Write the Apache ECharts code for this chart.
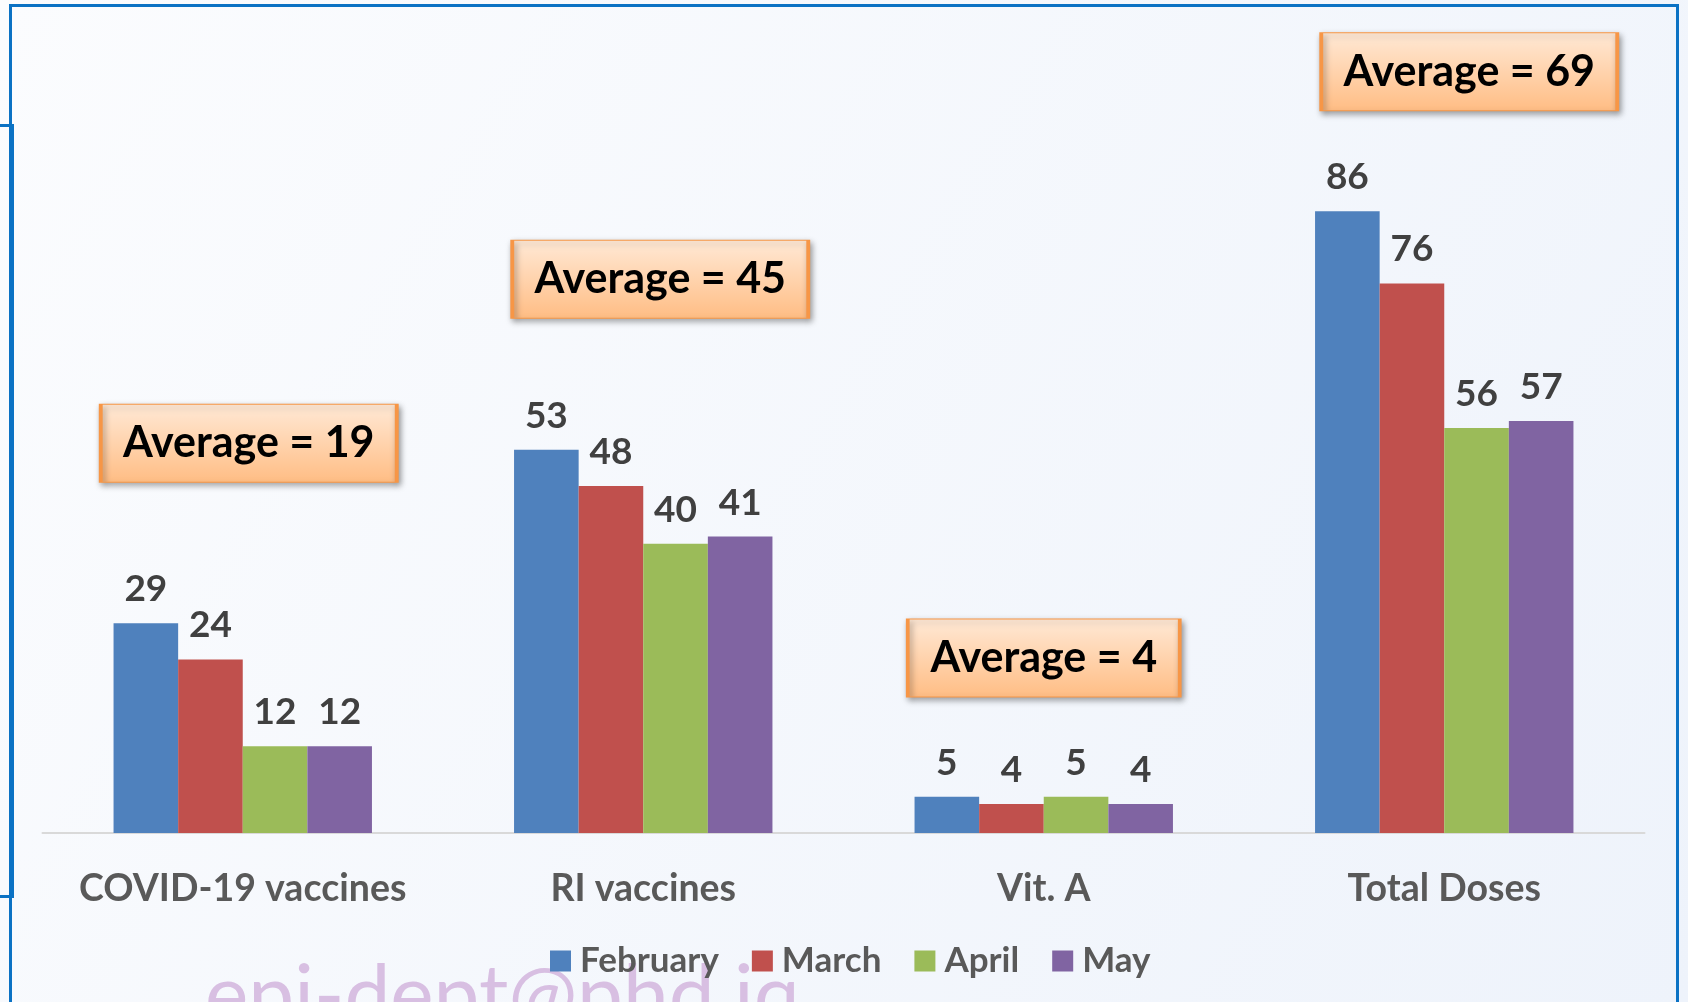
<!DOCTYPE html>
<html>
<head>
<meta charset="utf-8">
<script src="https://cdn.jsdelivr.net/npm/echarts@6/dist/echarts.min.js"></script>
<style>
  html, body { margin: 0; padding: 0; }
  #chart { width: 1688px; height: 1002px; }
</style>
</head>
<body>
<div id="chart"></div>
<script>
const categories = ["COVID-19 vaccines", "RI vaccines", "Vit. A", "Total Doses"];
const monthNames = ["February", "March", "April", "May"];
const february = [29, 53, 5, 86];
const march = [24, 48, 4, 76];
const april = [12, 40, 5, 56];
const may = [12, 41, 4, 57];
const averages = [19, 45, 4, 69];

// where the "Average" boxes sit (value-axis height, pixel nudge, box width)
const avgBoxLevel = [53.9, 76.6, 24.2, 105.3];
const avgBoxShift = [6, 17, 0, 25];
const avgBoxWidth = [296, 296, 272, 296];

const colors = ["#4f81bd", "#c0504d", "#9bbb59", "#8064a2"];
const font = "Lato";
const barW = 64.6;

const chart = echarts.init(document.getElementById("chart"));

const barLabel = {
  show: true,
  position: "top",
  distance: 14,
  fontFamily: font,
  fontWeight: "bold",
  fontSize: 37,
  lineHeight: 40,
  color: "#404040"
};

// markPoint hangs off the first bar, so move it back to the group centre
const avgPoints = averages.map((v, i) => ({
  coord: [categories[i], avgBoxLevel[i]],
  value: v,
  symbol: "rect",
  symbolSize: [avgBoxWidth[i], 78],
  symbolOffset: [avgBoxShift[i] + 1.5 * barW, 0]
}));

const seriesData = [february, march, april, may];

chart.setOption({
  animation: false,
  backgroundColor: new echarts.graphic.LinearGradient(0, 0, 1, 1, [
    { offset: 0, color: "#fbfcfe" },
    { offset: 1, color: "#eef3fb" }
  ]),
  color: colors,
  grid: {
    left: 42.5,
    right: 43.5,
    top: 37.7,
    bottom: 169
  },
  legend: {
    data: monthNames,
    left: 545,
    top: 936,
    icon: "rect",
    itemWidth: 21,
    itemHeight: 21,
    itemGap: 33,
    textStyle: {
      fontFamily: font,
      fontWeight: "bold",
      fontSize: 35,
      lineHeight: 40,
      color: "#595959",
      padding: [0, 0, 0, 4]
    }
  },
  xAxis: {
    type: "category",
    data: categories,
    axisLine: { lineStyle: { color: "#d9d9d9", width: 2 } },
    axisTick: { show: false },
    axisLabel: {
      interval: 0,
      margin: 36,
      fontFamily: font,
      fontWeight: "bold",
      fontSize: 37.5,
      lineHeight: 40,
      color: "#595959"
    }
  },
  yAxis: {
    type: "value",
    min: 0,
    max: 110,
    show: false
  },
  series: seriesData.map((d, i) => {
    const s = {
      name: monthNames[i],
      type: "bar",
      data: d,
      barWidth: barW,
      barGap: "0%",
      label: barLabel
    };
    if (i === 0) {
      s.markPoint = {
        data: avgPoints,
        itemStyle: {
          color: new echarts.graphic.LinearGradient(0, 0, 0, 1, [
            { offset: 0, color: "#ffe9d6" },
            { offset: 1, color: "#ffbd84" }
          ]),
          borderColor: "#f79646",
          borderWidth: 2,
          shadowColor: "rgba(0,0,0,0.35)",
          shadowBlur: 6,
          shadowOffsetX: 2,
          shadowOffsetY: 3
        },
        label: {
          show: true,
          position: "inside",
          formatter: (p) => "Average = " + p.value,
          fontFamily: font,
          fontWeight: "bold",
          fontSize: 43,
          color: "#000"
        }
      };
    }
    return s;
  }),
  graphic: [
    {
      type: "text",
      z: 0,
      style: {
        text: "epi-dept@phd.iq",
        x: 205,
        y: 1038,
        verticalAlign: "bottom",
        font: "82px Lato",
        fill: "#d8bfe2"
      }
    },
    { type: "rect", z: 10, shape: { x: 9, y: 4, width: 1670, height: 3 }, style: { fill: "#0b72c4" } },
    { type: "rect", z: 10, shape: { x: 9, y: 4, width: 3, height: 998 }, style: { fill: "#0b72c4" } },
    { type: "rect", z: 10, shape: { x: 1676, y: 4, width: 3, height: 998 }, style: { fill: "#0b72c4" } },
    { type: "rect", z: 10, shape: { x: 11, y: 124, width: 3, height: 774 }, style: { fill: "#0b72c4" } },
    { type: "rect", z: 10, shape: { x: 0, y: 124, width: 13, height: 3 }, style: { fill: "#0b72c4" } },
    { type: "rect", z: 10, shape: { x: 0, y: 895, width: 13, height: 3 }, style: { fill: "#0b72c4" } }
  ]
});
</script>
</body>
</html>
